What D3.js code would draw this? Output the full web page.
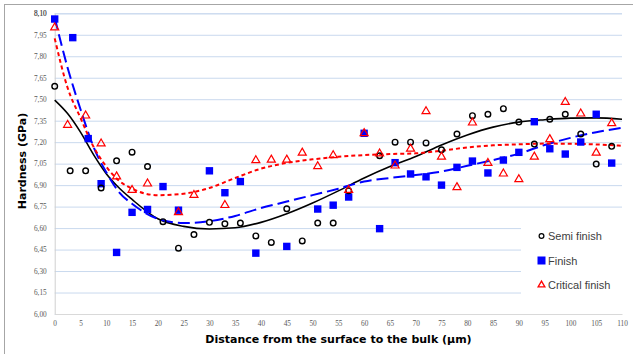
<html>
<head>
    <meta charset="utf-8">
    <script src="https://d3js.org/d3.v7.min.js"></script>
    <style>
        body { margin: 0; background: #fff; }
        .gridlines line { stroke: #c9d9ee; }
        .gridlines .domain { stroke: none; }
        .tick text { font-family: "Liberation Serif", serif; font-size: 7.3px; fill: #595959; }
    </style>
</head>
<body>
<svg id="chartArea" width="633" height="354"></svg>
<script>
    // measured points (distance in µm, hardness in GPa)
    const semiX = [0, 3, 6, 9, 12, 15, 18, 21, 24, 27, 30, 33, 36, 39, 42, 45, 48, 51, 54, 57, 63, 66, 69, 72, 75, 78, 81, 84, 87, 90, 93, 96, 99, 102, 105, 108];
    const semiY = [7.59, 7.00, 7.00, 6.88, 7.07, 7.13, 7.03, 6.645, 6.46, 6.555, 6.64, 6.63, 6.635, 6.545, 6.50, 6.735, 6.51, 6.635, 6.635, 6.86, 7.105, 7.20, 7.20, 7.195, 7.147, 7.257, 7.385, 7.395, 7.434, 7.34, 7.187, 7.36, 7.395, 7.257, 7.047, 7.171];

    const finishX = [0, 3.5, 6.5, 9, 12, 15, 18, 21, 24, 30, 33, 36, 39, 45, 51, 54, 57, 60, 63, 66, 69, 72, 75, 78, 81, 84, 87, 90, 93, 96, 99, 102, 105, 108];
    const finishY = [8.06, 7.93, 7.225, 6.91, 6.43, 6.71, 6.73, 6.89, 6.725, 7.00, 6.847, 6.925, 6.425, 6.472, 6.733, 6.76, 6.817, 7.262, 6.596, 7.057, 6.978, 6.958, 6.90, 7.024, 7.068, 6.985, 7.075, 7.129, 7.343, 7.154, 7.117, 7.201, 7.395, 7.054];

    const critX = [0, 2.5, 6, 9, 12, 15, 18, 24, 27, 33, 39, 42, 45, 48, 51, 54, 57, 60, 63, 66, 69, 72, 75, 78, 81, 84, 87, 90, 93, 96, 99, 102, 105, 108];
    const critY = [8.00, 7.32, 7.385, 7.19, 6.96, 6.865, 6.91, 6.71, 6.83, 6.76, 7.073, 7.077, 7.077, 7.126, 7.031, 7.108, 6.865, 7.262, 7.12, 7.036, 7.154, 7.415, 7.098, 6.885, 7.336, 7.054, 6.98, 6.94, 7.098, 7.22, 7.48, 7.399, 7.126, 7.332];

    // trend lines
    const trendX = [0, 2.5, 5, 7.5, 10, 12.5, 15, 20, 25, 30, 35, 40, 45, 50, 55, 60, 65, 70, 75, 80, 85, 90, 95, 100, 105, 110];
    const semiTrend = [7.494, 7.40, 7.27, 7.115, 6.98, 6.88, 6.80, 6.665, 6.612, 6.594, 6.602, 6.64, 6.70, 6.775, 6.86, 6.95, 7.03, 7.10, 7.18, 7.25, 7.305, 7.34, 7.357, 7.368, 7.37, 7.36];
    const finishTrend = [8.07, 7.72, 7.43, 7.17, 6.99, 6.85, 6.77, 6.665, 6.635, 6.648, 6.685, 6.74, 6.785, 6.83, 6.875, 6.925, 6.95, 6.97, 6.995, 7.035, 7.075, 7.12, 7.18, 7.23, 7.27, 7.30];
    const critTrend = [7.925, 7.58, 7.37, 7.17, 7.03, 6.93, 6.875, 6.83, 6.84, 6.88, 6.95, 7.015, 7.055, 7.08, 7.098, 7.11, 7.117, 7.122, 7.14, 7.163, 7.178, 7.185, 7.19, 7.189, 7.184, 7.175];

    const xTicks = d3.range(0, 111, 5);
    const yTicks = d3.range(0, 15).map(i => 6 + i * 0.15);
    const legendNames = ["Semi finish", "Finish", "Critical finish"];

    const svg = d3.select("#chartArea");
    const margins = { top: 13.3, left: 54.7, right: 11, bottom: 40 };
    const width = +svg.attr("width");

    // chart border
    svg.append("rect")
        .attr("x", 4.5).attr("y", 4.5)
        .attr("width", 700).attr("height", 400)
        .attr("fill", "none").attr("stroke", "#a6a6a6");

    const xScale = d3.scaleLinear().domain([0, 110]).range([margins.left, width - margins.right]);
    const yScale = d3.scaleLinear().domain([6, 8.1]).range([314, margins.top]);

    // gridlines
    svg.append("g")
        .attr("class", "gridlines")
        .attr("transform", `translate(${margins.left},0)`)
        .call(d3.axisLeft(yScale).tickValues(yTicks.concat([8.1])).tickFormat("").tickSize(-(xScale(110) - margins.left)));

    // legend box hides grid behind it
    svg.append("rect")
        .attr("x", 521).attr("y", 213)
        .attr("width", 105).attr("height", 92)
        .attr("fill", "#fff");

    // axes
    const fmt = d => d3.format(".2f")(d).replace(".", ",");
    const leftAxis = svg.append("g")
        .attr("transform", `translate(${margins.left},0)`)
        .call(d3.axisLeft(yScale).tickValues(yTicks.concat([8.1])).tickFormat(fmt).tickSize(0).tickPadding(8));
    leftAxis.select(".domain").attr("stroke", "#d0d0d0");

    const bottomAxis = svg.append("g")
        .attr("transform", `translate(0,314)`)
        .call(d3.axisBottom(xScale).tickValues(xTicks).tickFormat(d3.format("d")).tickSize(0).tickPadding(7));
    bottomAxis.select(".domain").attr("stroke", "#d9d9d9");

    // axis titles
    svg.append("text")
        .attr("x", 338.5).attr("y", 343)
        .attr("text-anchor", "middle")
        .style("font-family", "DejaVu Sans").style("font-weight", "bold").style("font-size", "11px")
        .text("Distance from the surface to the bulk (µm)");

    svg.append("text")
        .attr("transform", "translate(26,161) rotate(-90)")
        .attr("text-anchor", "middle")
        .style("font-family", "DejaVu Sans").style("font-weight", "bold").style("font-size", "11px")
        .text("Hardness (GPa)");

    // trend lines
    const line = d3.line()
        .x((d, i) => xScale(trendX[i]))
        .y(d => yScale(d))
        .curve(d3.curveMonotoneX);

    svg.append("path").attr("d", line(semiTrend))
        .attr("fill", "none").attr("stroke", "#000").attr("stroke-width", 1.6);
    svg.append("path").attr("d", line(finishTrend))
        .attr("fill", "none").attr("stroke", "#0000ff").attr("stroke-width", 2)
        .attr("stroke-dasharray", "12,5");
    svg.append("path").attr("d", line(critTrend))
        .attr("fill", "none").attr("stroke", "#ff0000").attr("stroke-width", 2)
        .attr("stroke-dasharray", "4,3");

    // markers
    const triangle = d3.symbol().type(d3.symbolTriangle).size(28);

    svg.append("g").selectAll("rect")
        .data(finishX)
        .join("rect")
        .attr("x", d => xScale(d) - 3.7)
        .attr("y", (d, i) => yScale(finishY[i]) - 3.7)
        .attr("width", 7.4).attr("height", 7.4)
        .attr("fill", "#0000ff");

    svg.append("g").selectAll("circle")
        .data(semiX)
        .join("circle")
        .attr("cx", d => xScale(d))
        .attr("cy", (d, i) => yScale(semiY[i]))
        .attr("r", 2.8)
        .attr("fill", "none").attr("stroke", "#000").attr("stroke-width", 1.4);

    svg.append("g").selectAll("path")
        .data(critX)
        .join("path")
        .attr("d", triangle)
        .attr("transform", (d, i) => `translate(${xScale(d)},${yScale(critY[i])})`)
        .attr("fill", "none").attr("stroke", "#ff0000").attr("stroke-width", 1.2);

    // legend
    const legend = svg.append("g").attr("transform", "translate(541.5,236)");
    const items = legend.selectAll("g")
        .data(legendNames)
        .join("g")
        .attr("transform", (d, i) => `translate(0,${i * 24.5})`);

    items.filter((d, i) => i === 0).append("circle")
        .attr("r", 2.4).attr("fill", "none").attr("stroke", "#000").attr("stroke-width", 1.2);
    items.filter((d, i) => i === 1).append("rect")
        .attr("x", -4).attr("y", -4).attr("width", 8).attr("height", 8).attr("fill", "#0000ff");
    items.filter((d, i) => i === 2).append("path")
        .attr("d", d3.symbol().type(d3.symbolTriangle).size(20))
        .attr("fill", "none").attr("stroke", "#ff0000").attr("stroke-width", 1.3);

    items.append("text")
        .attr("x", 6.5).attr("y", 4)
        .style("font-family", "Liberation Sans").style("font-size", "11px").style("fill", "#404040")
        .text(d => d);
</script>
</body>
</html>
